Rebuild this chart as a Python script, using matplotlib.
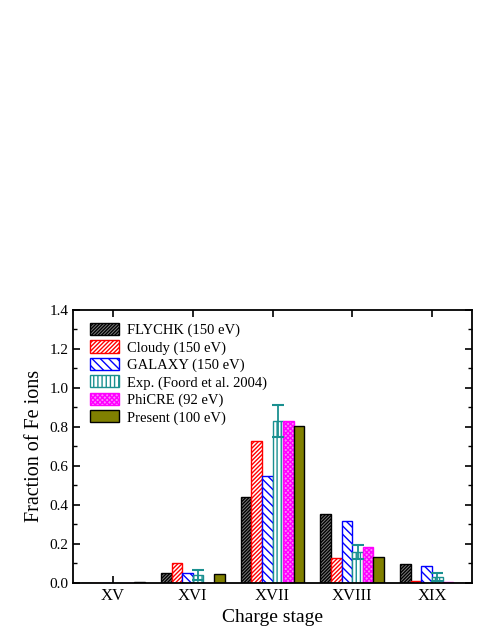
import numpy as np
import matplotlib
matplotlib.use('Agg')
import matplotlib.pyplot as plt
from matplotlib.ticker import MultipleLocator

plt.rcParams['font.family'] = ['Liberation Serif', 'DejaVu Serif']
plt.rcParams['hatch.linewidth'] = 1.0

stages = ['XV', 'XVI', 'XVII', 'XVIII', 'XIX']
labels = ['FLYCHK (150 eV)', 'Cloudy (150 eV)', 'GALAXY (150 eV)',
          'Exp. (Foord et al. 2004)', 'PhiCRE (92 eV)', 'Present (100 eV)']

flychk = [0.0, 0.05, 0.44, 0.355, 0.096]
cloudy = [0.0, 0.10, 0.727, 0.13, 0.01]
galaxy = [0.0, 0.05, 0.547, 0.316, 0.089]
exp_val = [0.0, 0.04, 0.83, 0.16, 0.032]
exp_err = [0.0, 0.025, 0.08, 0.035, 0.02]
phicre = [0.0, 0.0, 0.832, 0.186, 0.003]
present = [0.007, 0.045, 0.807, 0.133, 0.0]

series = [flychk, cloudy, galaxy, exp_val, phicre, present]
# (face, edge, hatch)
styles = [('#808080', 'black', '//////////'),
          ('white', 'red', '////////'),
          ('white', 'blue', '\\\\\\\\'),
          ('white', '#1a9090', '||||'),
          ('#ff80ff', '#ff00ff', 'xxxxxxx'),
          ('#808000', 'black', None)]

fig = plt.figure(figsize=(4.91, 6.35), dpi=100)
ax = fig.add_axes([0.149, 0.082, 0.812, 0.430])

x = np.arange(len(stages))
w = 0.133
for i, (vals, (fc, ec, h)) in enumerate(zip(series, styles)):
    pos = x + (i - 2.5) * w
    ax.bar(pos, vals, width=w, facecolor=fc, edgecolor=ec, hatch=h,
           linewidth=1.0, label=labels[i], zorder=2)
    if i == 3:
        ax.errorbar(pos[1:], exp_val[1:], yerr=exp_err[1:], fmt='none',
                    ecolor='#1a9090', elinewidth=1.3, capsize=4.5, capthick=1.5, zorder=3)

ax.set_xlim(-0.5, 4.5)
ax.set_ylim(0, 1.4)
ax.set_xticks(x)
ax.set_xticklabels(stages, fontsize=12)
ax.yaxis.set_major_locator(MultipleLocator(0.2))
ax.yaxis.set_minor_locator(MultipleLocator(0.1))
ax.yaxis.set_major_formatter(matplotlib.ticker.FormatStrFormatter('%.1f'))
ax.tick_params(direction='in', top=True, right=True, labelsize=11, length=5, width=1.2)
ax.tick_params(axis='x', labelsize=12)
ax.tick_params(which='minor', direction='in', right=True, length=3, width=1.0)
for s in ax.spines.values():
    s.set_linewidth(1.3)

ax.set_xlabel('Charge stage', fontsize=14)
ax.set_ylabel('Fraction of Fe ions', fontsize=14.5)

ax.legend(loc='upper left', frameon=False, fontsize=10.5, handlelength=2.0,
          handleheight=0.9, labelspacing=0.22, borderaxespad=0.5,
          handletextpad=0.5, bbox_to_anchor=(0.01, 1.0))

fig.savefig('out.png', dpi=100)
